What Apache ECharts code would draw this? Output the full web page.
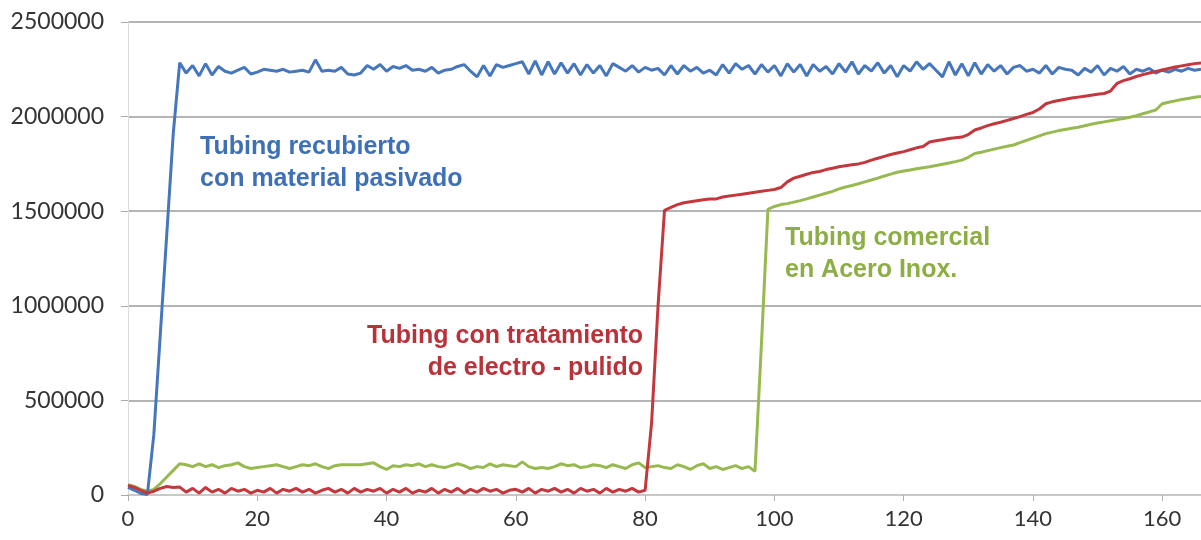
<!DOCTYPE html>
<html>
<head>
<meta charset="utf-8">
<script src="https://cdn.jsdelivr.net/npm/echarts@6/dist/echarts.min.js"></script>
<style>
  html, body { margin: 0; padding: 0; background: #fff; }
  #chart { width: 1201px; height: 540px; }
</style>
</head>
<body>
<div id="chart"></div>
<script>
// tiempo: 0..166, one reading per unit
var pasivado = [
  40000, 25000, 8000, 3000, 320000, 850000, 1380000, 1910000, 2285000, 2230000,
  2270000, 2215000, 2280000, 2220000, 2265000, 2240000, 2230000, 2245000, 2260000, 2225000,
  2235000, 2250000, 2245000, 2240000, 2250000, 2235000, 2240000, 2245000, 2235000, 2300000,
  2240000, 2245000, 2240000, 2260000, 2225000, 2220000, 2230000, 2270000, 2250000, 2275000,
  2240000, 2265000, 2255000, 2270000, 2245000, 2250000, 2240000, 2260000, 2230000, 2245000,
  2250000, 2265000, 2275000, 2240000, 2210000, 2270000, 2215000, 2275000, 2260000, 2270000,
  2280000, 2290000, 2225000, 2295000, 2220000, 2290000, 2225000, 2285000, 2230000, 2280000,
  2220000, 2275000, 2230000, 2270000, 2215000, 2280000, 2260000, 2240000, 2270000, 2235000,
  2260000, 2245000, 2255000, 2220000, 2270000, 2225000, 2270000, 2240000, 2260000, 2230000,
  2245000, 2220000, 2275000, 2230000, 2280000, 2250000, 2270000, 2225000, 2275000, 2235000,
  2270000, 2215000, 2280000, 2235000, 2275000, 2215000, 2275000, 2240000, 2265000, 2225000,
  2280000, 2235000, 2290000, 2225000, 2270000, 2240000, 2285000, 2230000, 2270000, 2210000,
  2270000, 2240000, 2290000, 2250000, 2280000, 2245000, 2210000, 2290000, 2220000, 2280000,
  2215000, 2285000, 2225000, 2275000, 2240000, 2270000, 2225000, 2260000, 2270000, 2240000,
  2250000, 2230000, 2270000, 2225000, 2260000, 2250000, 2245000, 2220000, 2255000, 2235000,
  2270000, 2220000, 2255000, 2240000, 2265000, 2225000, 2250000, 2240000, 2255000, 2230000,
  2245000, 2235000, 2250000, 2240000, 2255000, 2245000, 2250000
];
var electropulido = [
  50000, 40000, 25000, 10000, 20000, 35000, 45000, 40000, 42000, 15000,
  35000, 10000, 40000, 15000, 30000, 10000, 35000, 20000, 30000, 10000,
  25000, 15000, 35000, 10000, 30000, 20000, 35000, 15000, 30000, 10000,
  25000, 35000, 15000, 30000, 10000, 35000, 15000, 30000, 20000, 35000,
  10000, 30000, 15000, 35000, 10000, 25000, 15000, 35000, 10000, 30000,
  15000, 35000, 10000, 30000, 15000, 35000, 20000, 30000, 10000, 25000,
  30000, 15000, 35000, 10000, 30000, 20000, 35000, 15000, 30000, 10000,
  35000, 20000, 30000, 10000, 35000, 15000, 30000, 20000, 35000, 15000,
  25000, 380000, 1000000, 1505000, 1520000, 1535000, 1545000, 1550000, 1555000, 1560000,
  1565000, 1565000, 1575000, 1580000, 1585000, 1590000, 1595000, 1600000, 1605000, 1610000,
  1615000, 1625000, 1655000, 1675000, 1685000, 1695000, 1705000, 1710000, 1720000, 1727000,
  1735000, 1740000, 1745000, 1750000, 1758000, 1770000, 1780000, 1790000, 1800000, 1808000,
  1815000, 1825000, 1835000, 1842000, 1866000, 1872000, 1878000, 1884000, 1888000, 1892000,
  1905000, 1929000, 1940000, 1952000, 1962000, 1970000, 1980000, 1990000, 2000000, 2012000,
  2022000, 2040000, 2068000, 2078000, 2085000, 2092000, 2098000, 2103000, 2108000, 2113000,
  2118000, 2122000, 2135000, 2175000, 2190000, 2200000, 2212000, 2222000, 2230000, 2238000,
  2246000, 2254000, 2262000, 2268000, 2274000, 2280000, 2283000
];
var comercial = [
  55000, 45000, 30000, 20000, 30000, 60000, 95000, 130000, 165000, 160000,
  150000, 165000, 150000, 160000, 145000, 155000, 160000, 170000, 150000, 140000,
  145000, 150000, 155000, 160000, 150000, 140000, 150000, 160000, 155000, 165000,
  150000, 140000, 155000, 160000, 160000, 160000, 160000, 165000, 170000, 150000,
  135000, 155000, 150000, 160000, 155000, 165000, 150000, 160000, 150000, 145000,
  155000, 165000, 155000, 140000, 150000, 145000, 165000, 150000, 160000, 155000,
  150000, 175000, 150000, 140000, 145000, 140000, 150000, 165000, 155000, 160000,
  145000, 150000, 160000, 155000, 145000, 160000, 150000, 140000, 160000, 170000,
  145000, 150000, 155000, 145000, 140000, 160000, 150000, 135000, 155000, 165000,
  140000, 150000, 135000, 145000, 155000, 140000, 150000, 125000, 800000, 1510000,
  1525000, 1535000, 1540000, 1548000, 1556000, 1565000, 1575000, 1585000, 1595000, 1605000,
  1618000, 1628000, 1636000, 1645000, 1655000, 1665000, 1675000, 1686000, 1696000, 1706000,
  1712000, 1718000, 1724000, 1730000, 1735000, 1742000, 1748000, 1755000, 1762000, 1770000,
  1785000, 1805000, 1812000, 1820000, 1828000, 1836000, 1843000, 1850000, 1862000, 1874000,
  1886000, 1898000, 1910000, 1918000, 1926000, 1932000, 1938000, 1944000, 1952000, 1960000,
  1966000, 1972000, 1978000, 1984000, 1990000, 1997000, 2005000, 2015000, 2025000, 2035000,
  2068000, 2076000, 2083000, 2090000, 2096000, 2102000, 2106000
];

// pair each reading with its time index
function conTiempo(valores){
  var out = [];
  for (var i = 0; i < valores.length; i++){
    out.push([i, valores[i]]);
  }
  return out;
}

var fuenteEje = 'Lato, "Open Sans", sans-serif';
var fuenteRotulo = '"Liberation Sans Narrow", "Arial Narrow", "Liberation Sans", sans-serif';

function rotulo(texto, color, pos){
  var el = {type: 'text', top: pos.top, style: {
    text: texto, fill: color, font: 'bold 25px ' + fuenteRotulo}};
  if (pos.left !== undefined) el.left = pos.left;
  if (pos.right !== undefined) el.right = pos.right;
  return el;
}

var myChart = echarts.init(document.getElementById('chart'));
var option = {
  backgroundColor: '#ffffff',
  animation: false,
  grid: {left: 128, right: 0, top: 22, bottom: 45},
  xAxis: {
    type: 'value',
    min: 0,
    max: 166,
    interval: 20,
    axisLine: {show: true, lineStyle: {color: '#c8c8c8', width: 2}},
    axisTick: {show: true, length: 6, lineStyle: {color: '#b0b0b0'}},
    axisLabel: {color: '#333', fontSize: 22, fontFamily: fuenteEje, margin: 13, showMaxLabel: false},
    splitLine: {show: false}
  },
  yAxis: {
    type: 'value',
    min: 0,
    max: 2500000,
    interval: 500000,
    axisLine: {show: true, lineStyle: {color: '#dcdcdc', width: 1}},
    axisTick: {show: true, length: 7, lineStyle: {color: '#aaa'}},
    axisLabel: {color: '#333', fontSize: 23, fontFamily: fuenteEje, margin: 24,
      formatter: function(v){ return String(v); }},
    splitLine: {show: true, lineStyle: {color: '#b4b4b4', width: 2}}
  },
  series: [
    {
      name: 'Tubing recubierto con material pasivado',
      type: 'line', data: conTiempo(pasivado), showSymbol: false,
      lineStyle: {color: '#4677bd', width: 3}, itemStyle: {color: '#4677bd'}, z: 3
    },
    {
      name: 'Tubing con tratamiento de electro - pulido',
      type: 'line', data: conTiempo(electropulido), showSymbol: false,
      lineStyle: {color: '#c3373d', width: 3}, itemStyle: {color: '#c3373d'}, z: 4
    },
    {
      name: 'Tubing comercial en Acero Inox.',
      type: 'line', data: conTiempo(comercial), showSymbol: false,
      lineStyle: {color: '#97b94f', width: 3}, itemStyle: {color: '#97b94f'}, z: 2
    }
  ],
  graphic: [
    rotulo('Tubing recubierto', '#3f70b6', {left: 200, top: 135}),
    rotulo('con material pasivado', '#3f70b6', {left: 200, top: 167}),
    rotulo('Tubing con tratamiento', '#b9323a', {right: 558, top: 324}),
    rotulo('de electro - pulido', '#b9323a', {right: 558, top: 356}),
    rotulo('Tubing comercial', '#8cae45', {left: 785, top: 226}),
    rotulo('en Acero Inox.', '#8cae45', {left: 785, top: 258})
  ]
};
myChart.setOption(option);
</script>
</body>
</html>
